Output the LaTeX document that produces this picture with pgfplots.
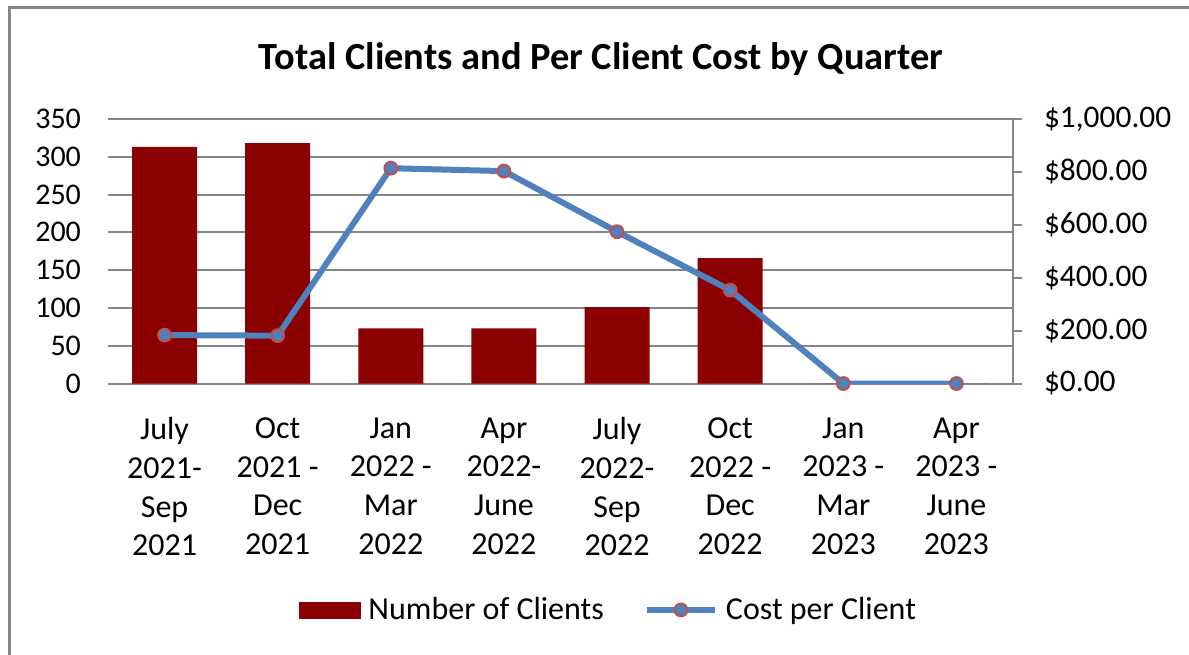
\documentclass[border=0pt]{standalone}
\usepackage{fontspec}
\setmainfont{Carlito}
\usepackage{pgfplots}
\pgfplotsset{compat=1.18}
\pgfplotsset{/pgf/number format/assume math mode=true}
\definecolor{barred}{RGB}{139,0,0}
\definecolor{costblue}{RGB}{79,129,189}
\definecolor{mkred}{RGB}{192,80,77}
\definecolor{gridgray}{RGB}{134,134,134}
\pgfplotsset{
  costleg/.style={legend image code/.code={\draw[mark repeat=2,mark phase=2,##1]
    plot coordinates {(0pt,0pt) (17pt,0pt) (34pt,0pt)};}},
  barleg/.style={legend image code/.code={\fill[barred] (0pt,-4pt) rectangle (30.5pt,4pt);}},
}
\begin{document}
\begin{tikzpicture}
% page = 1189x654 px at 0.5pt per px
\useasboundingbox (0pt,0pt) rectangle (594.5pt,-327pt);
\draw[gridgray, line width=1.5pt] (4.5pt,-330pt) -- (4.5pt,-3.75pt) -- (600pt,-3.75pt);
\node[anchor=base, font=\bfseries\fontsize{19.2}{23}\selectfont] at (300.5pt,-34.5pt)
  {Total Clients and Per Client Cost by Quarter};

% clients (left axis)
\begin{axis}[
  at={(54pt,-191.75pt)}, anchor=south west,
  scale only axis, width=452.5pt, height=132.25pt,
  xmin=-0.5, xmax=7.5, ymin=0, ymax=350,
  xtick={0,...,7},
  xticklabels={{July\\2021-\\Sep\\2021},{Oct\\2021 -\\Dec\\2021},{Jan\\2022 -\\Mar\\2022},
    {Apr\\2022-\\June\\2022},{July\\2022-\\Sep\\2022},{Oct\\2022 -\\Dec\\2022},
    {Jan\\2023 -\\Mar\\2023},{Apr\\2023 -\\June\\2023}},
  xticklabel style={align=center, font=\fontsize{16}{19.35}\selectfont, yshift=-13.5pt},
  ytick={0,50,...,350},
  yticklabel style={font=\fontsize{15}{18}\selectfont, xshift=-10pt},
  axis line style={draw=none}, tick style={draw=none},
  ymajorgrids, grid style={gridgray, line width=1pt},
]
\addplot[ybar, bar width=0.575, fill=barred, draw=none]
  coordinates {(0,313) (1,318) (2,73) (3,73) (4,101) (5,166) (6,0) (7,0)};
\end{axis}

% cost per client (right axis)
\begin{axis}[
  at={(54pt,-191.75pt)}, anchor=south west,
  scale only axis, width=452.5pt, height=132.25pt,
  xmin=-0.5, xmax=7.5, ymin=0, ymax=1000,
  axis x line=none, axis y line*=right,
  ytick={0,200,...,1000},
  y axis line style={gridgray, line width=1pt, -},
  ytick style={gridgray, line width=1pt},
  tick align=outside, major tick length=4.5pt,
  yticklabel={\$\pgfmathprintnumber[fixed,fixed zerofill,precision=2,1000 sep={,}]{\tick}},
  yticklabel style={font=\fontsize{15.7}{18}\selectfont, xshift=7.5pt},
  clip mode=individual,
  legend style={at={(0.554,-0.856)}, anchor=center, draw=none, legend columns=2,
    font=\fontsize{16}{19}\selectfont,
    /tikz/every odd column/.append style={column sep=2pt},
    /tikz/every even column/.append style={column sep=18pt}},
]
\addlegendimage{barleg}
\addlegendentry{Number of Clients}
\addplot[costblue, line width=3pt, mark=*, mark size=3.2pt,
  mark options={fill=costblue, draw=mkred, line width=1pt}, costleg]
  coordinates {(0,183) (1,181) (2,814) (3,803) (4,574) (5,353) (6,0) (7,0)};
\addlegendentry{Cost per Client}
\end{axis}
\end{tikzpicture}
\end{document}
